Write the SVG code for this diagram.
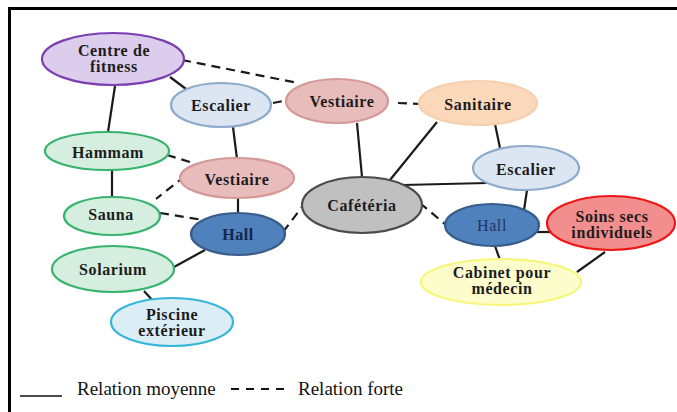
<svg xmlns="http://www.w3.org/2000/svg" width="677" height="412" viewBox="0 0 677 412">
  <style>
    .edge { stroke: #1a1a1a; stroke-width: 2.2; fill: none; stroke-linecap: butt; }
    .dash { stroke-dasharray: 9 6; }
    .lbl { font-family: "Liberation Serif", "Times New Roman", serif; font-size: 16px; font-weight: bold; fill: #1c1c1c; text-anchor: middle; letter-spacing: 0.6px; }
    .legend { font-family: "Liberation Serif", "Times New Roman", serif; font-size: 19px; fill: #111; }
    .n { stroke-width: 2.2; }
    .purple { fill: #dccdec; stroke: #7a3fb0; }
    .stair { fill: #dce6f2; stroke: #8eaacb; }
    .locker { fill: #e8bcbb; stroke: #d49a98; }
    .sanit { fill: #fcd8bb; stroke: #f6cfae; }
    .cafe { fill: #c0c0c0; stroke: #4a4a4a; }
    .hall { fill: #4f81bd; stroke: #385d8a; }
    .care { fill: #f28e8e; stroke: #f01515; }
    .doc { fill: #fdfdcc; stroke: #f6f67a; }
    .green { fill: #d6eee0; stroke: #36b36d; }
    .pool { fill: #dbeef6; stroke: #35b5d8; }
  </style>

  <rect x="0" y="0" width="677" height="412" fill="#ffffff"/>
  <!-- frame -->
  <path d="M9.5,412 V8.5 H677" stroke="#000" stroke-width="3" fill="none"/>

  <g id="connectors">
    <!-- medium relations -->
    <line class="edge" x1="115" y1="86" x2="108" y2="132"/>
    <line class="edge" x1="170" y1="77" x2="186" y2="89"/>
    <line class="edge" x1="233" y1="127" x2="237" y2="159"/>
    <line class="edge" x1="112" y1="170" x2="112" y2="197"/>
    <line class="edge" x1="238" y1="196" x2="238" y2="213"/>
    <line class="edge" x1="174" y1="267" x2="205" y2="250"/>
    <line class="edge" x1="144" y1="291" x2="154" y2="302"/>
    <line class="edge" x1="357" y1="123" x2="362" y2="177"/>
    <line class="edge" x1="437" y1="122" x2="390" y2="180"/>
    <line class="edge" x1="495" y1="124" x2="500" y2="148"/>
    <line class="edge" x1="403" y1="185" x2="487" y2="183"/>
    <line class="edge" x1="527" y1="190" x2="524" y2="210"/>
    <line class="edge" x1="537" y1="232" x2="560" y2="232"/>
    <line class="edge" x1="495" y1="246" x2="500" y2="260"/>
    <line class="edge" x1="605" y1="252" x2="577" y2="272"/>
    <!-- strong relations -->
    <line class="edge dash" x1="182" y1="60" x2="298" y2="83"/>
    <line class="edge dash" x1="273" y1="103" x2="288" y2="100"/>
    <line class="edge dash" x1="398" y1="103" x2="421" y2="104"/>
    <line class="edge dash" x1="167" y1="155" x2="193" y2="163"/>
    <line class="edge dash" x1="185" y1="176" x2="156" y2="199"/>
    <line class="edge dash" x1="160" y1="213" x2="203" y2="220"/>
    <line class="edge dash" x1="283" y1="232" x2="302" y2="207"/>
    <line class="edge dash" x1="420" y1="203" x2="446" y2="225"/>
  </g>

  <g id="centre-fitness">
    <ellipse class="n purple" cx="113" cy="59" rx="71" ry="26"/>
    <text class="lbl" x="114" y="56">Centre de</text>
    <text class="lbl" x="114" y="72">fitness</text>
  </g>
  <g id="escalier-1">
    <ellipse class="n stair" cx="221" cy="105" rx="50" ry="22"/>
    <text class="lbl" x="221" y="111">Escalier</text>
  </g>
  <g id="vestiaire-1">
    <ellipse class="n locker" cx="337" cy="101" rx="51" ry="22"/>
    <text class="lbl" x="342" y="107">Vestiaire</text>
  </g>
  <g id="sanitaire">
    <ellipse class="n sanit" cx="478" cy="103" rx="59" ry="22"/>
    <text class="lbl" x="478" y="110">Sanitaire</text>
  </g>
  <g id="hammam">
    <ellipse class="n green" cx="107" cy="151" rx="62" ry="19"/>
    <text class="lbl" x="108" y="158">Hammam</text>
  </g>
  <g id="vestiaire-2">
    <ellipse class="n locker" cx="237" cy="178" rx="57" ry="20"/>
    <text class="lbl" x="237" y="185">Vestiaire</text>
  </g>
  <g id="escalier-2">
    <ellipse class="n stair" cx="526" cy="168" rx="53" ry="22"/>
    <text class="lbl" x="526" y="175">Escalier</text>
  </g>
  <g id="cafeteria">
    <ellipse class="n cafe" cx="362" cy="205" rx="60" ry="28"/>
    <text class="lbl" x="362" y="211">Cafétéria</text>
  </g>
  <g id="sauna">
    <ellipse class="n green" cx="112" cy="216" rx="48" ry="19"/>
    <text class="lbl" x="111" y="220">Sauna</text>
  </g>
  <g id="hall-1">
    <ellipse class="n hall" cx="238" cy="234" rx="47" ry="21"/>
    <text class="lbl" x="238" y="240" style="fill:#16264a">Hall</text>
  </g>
  <g id="hall-2">
    <ellipse class="n hall" cx="492" cy="225" rx="47" ry="21"/>
    <text class="lbl" x="492" y="231" style="fill:#1f3560;font-weight:normal">Hall</text>
  </g>
  <g id="soins-secs">
    <ellipse class="n care" cx="611" cy="223" rx="64" ry="27"/>
    <text class="lbl" x="612" y="222">Soins secs</text>
    <text class="lbl" x="612" y="238">individuels</text>
  </g>
  <g id="solarium">
    <ellipse class="n green" cx="113" cy="269" rx="61" ry="23"/>
    <text class="lbl" x="113" y="275">Solarium</text>
  </g>
  <g id="cabinet-medecin">
    <ellipse class="n doc" cx="501" cy="282" rx="80" ry="23"/>
    <text class="lbl" x="502" y="278">Cabinet pour</text>
    <text class="lbl" x="502" y="294">médecin</text>
  </g>
  <g id="piscine-exterieur">
    <ellipse class="n pool" cx="172" cy="322" rx="61" ry="24"/>
    <text class="lbl" x="172" y="320">Piscine</text>
    <text class="lbl" x="172" y="336">extérieur</text>
  </g>

  <g id="legend">
    <line x1="20" y1="396" x2="62" y2="396" stroke="#111" stroke-width="1.6"/>
    <text class="legend" x="77" y="395">Relation moyenne</text>
    <line x1="231" y1="389" x2="287" y2="389" stroke="#111" stroke-width="1.8" stroke-dasharray="8 7"/>
    <text class="legend" x="298" y="395">Relation forte</text>
  </g>
</svg>
